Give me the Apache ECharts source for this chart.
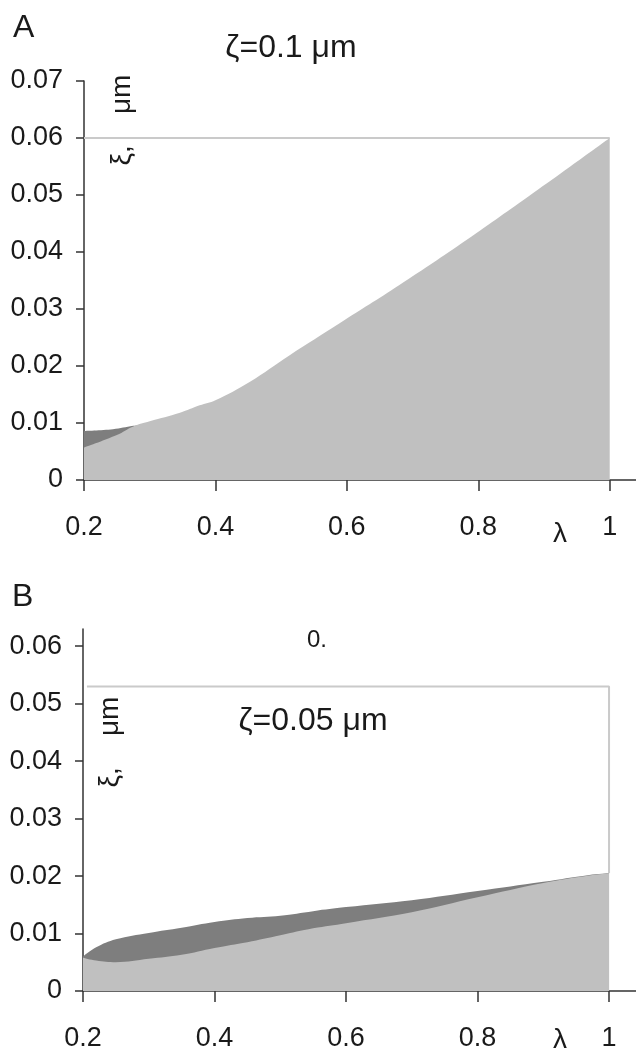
<!DOCTYPE html>
<html><head><meta charset="utf-8">
<script src="https://cdn.jsdelivr.net/npm/echarts@6/dist/echarts.min.js"></script>
<style>html,body{margin:0;padding:0;background:#fff}#c{width:636px;height:1057px}</style>
</head><body><div id="c"></div>
<script>
// Panel A (ζ = 0.1 μm)
const lambdaA_light = [0.2, 0.25, 0.275, 0.3, 0.346, 0.376, 0.4, 0.452, 0.513, 0.589, 0.68, 0.782, 0.883, 0.94, 1.0];
const valuesA_light = [0.0057, 0.0079, 0.0094, 0.0103, 0.0118, 0.0131, 0.0140, 0.0172, 0.0219, 0.0275, 0.0342, 0.0421, 0.0503, 0.0550, 0.0600];
const lambdaA_dark = [0.2, 0.244, 0.275, 0.29];
const valuesA_dark = [0.0086, 0.0089, 0.0095, 0.0097];
const boundA = 0.06;

// Panel B (ζ = 0.05 μm)
const lambdaB = [0.2, 0.22, 0.25, 0.3, 0.35, 0.4, 0.45, 0.5, 0.55, 0.6, 0.7, 0.8, 0.9, 0.97, 1.0];
const valuesB_dark = [0.0060, 0.0076, 0.0090, 0.0101, 0.0110, 0.0120, 0.0127, 0.0131, 0.0139, 0.0146, 0.0158, 0.0174, 0.0190, 0.0202, 0.0205];
const valuesB_light = [0.0058, 0.0053, 0.0050, 0.0056, 0.0063, 0.0075, 0.0085, 0.0097, 0.0109, 0.0118, 0.0137, 0.0163, 0.0188, 0.0201, 0.0205];
const boundB = 0.053;

const xTicks = [0.2, 0.4, 0.6, 0.8, 1];
const yTicksA = [0, 0.01, 0.02, 0.03, 0.04, 0.05, 0.06, 0.07];
const yTicksB = [0, 0.01, 0.02, 0.03, 0.04, 0.05, 0.06];

const LIGHT = '#c0c0c0', DARK = '#7e7e7e', BOUND = '#cacaca', AXIS = '#333333', TXT = '#1a1a1a';
const FONT = '"Liberation Sans", Arial, sans-serif';

function zip(xs, ys) { return xs.map((x, i) => [x, ys[i]]); }
function xAxis(gi, max) {
  return {
    type: 'value', gridIndex: gi, min: 0.2, max: max,
    axisLine: { show: true, lineStyle: { color: AXIS, width: 1.5 } },
    axisTick: { show: true, customValues: xTicks, length: 11, lineStyle: { color: AXIS, width: 1.5 } },
    axisLabel: { customValues: xTicks, margin: 34, color: TXT, fontSize: 27, fontFamily: FONT,
      formatter: v => String(Math.round(v * 10) / 10) },
    splitLine: { show: false }
  };
}
function yAxis(gi, max, ticks) {
  return {
    type: 'value', gridIndex: gi, min: 0, max: max,
    axisLine: { show: true, lineStyle: { color: AXIS, width: 1.5 } },
    axisTick: { show: true, customValues: ticks, length: 8, lineStyle: { color: AXIS, width: 1.5 } },
    axisLabel: { customValues: ticks, margin: 21, color: TXT, fontSize: 27, fontFamily: FONT,
      formatter: v => v === 0 ? '0' : v.toFixed(2) },
    splitLine: { show: false }
  };
}
function area(xi, data, color, z) {
  return { type: 'line', xAxisIndex: xi, yAxisIndex: xi, data: data, symbol: 'none', smooth: 0.4,
    lineStyle: { width: 0 }, areaStyle: { color: color, opacity: 1 }, z: z, silent: true, animation: false };
}
function bound(xi, data) {
  return { type: 'line', xAxisIndex: xi, yAxisIndex: xi, data: data, symbol: 'none',
    lineStyle: { color: BOUND, width: 2 }, z: 1, silent: true, animation: false };
}
function txt(x, y, s, size, align, rot) {
  return { type: 'text', x: x, y: y, rotation: rot || 0,
    style: { text: s, fill: TXT, font: size + 'px ' + FONT, align: align || 'center', verticalAlign: 'middle' } };
}

const chart = echarts.init(document.getElementById('c'), null, { renderer: 'canvas' });
chart.setOption({
  backgroundColor: '#fff',
  animation: false,
  grid: [
    { left: 84, top: 81, width: 552, height: 399 },
    { left: 83, top: 629, width: 553, height: 362 }
  ],
  xAxis: [xAxis(0, 1.04), xAxis(1, 1.041)],
  yAxis: [yAxis(0, 0.07, yTicksA), yAxis(1, 0.063, yTicksB)],
  series: [
    bound(0, [[0.2, boundA], [1, boundA]]),
    area(0, zip(lambdaA_dark, valuesA_dark), DARK, 2),
    area(0, zip(lambdaA_light, valuesA_light), LIGHT, 3),
    bound(1, [[0.206, boundB], [1, boundB], [1, valuesB_dark[valuesB_dark.length - 1]]]),
    area(1, zip(lambdaB, valuesB_dark), DARK, 2),
    area(1, zip(lambdaB, valuesB_light), LIGHT, 3)
  ],
  graphic: [
    txt(13, 28, 'A', 32, 'left'),
    txt(291, 48, 'ζ=0.1 μm', 32),
    txt(122, 120, 'ξ,    μm', 28, 'center', Math.PI / 2),
    txt(560, 534, 'λ', 28),
    txt(12, 597, 'B', 32, 'left'),
    txt(317, 640, '0.', 24),
    txt(313, 721, 'ζ=0.05 μm', 32),
    txt(110, 742, 'ξ,    μm', 28, 'center', Math.PI / 2),
    txt(560, 1040, 'λ', 28)
  ]
});
</script></body></html>
